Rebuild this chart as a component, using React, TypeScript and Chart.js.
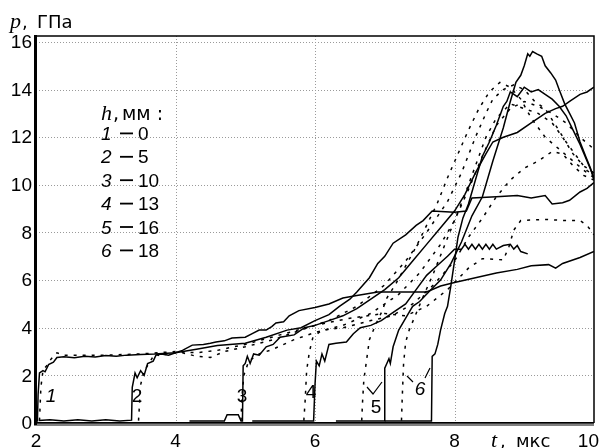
import React, { useEffect, useRef } from "react";
import { Chart, registerables } from "chart.js";

Chart.register(...registerables);

// ---- axis ticks ----
const xTicks = [2, 4, 6, 8, 10];
const yTicks = [0, 2, 4, 6, 8, 10, 12, 14, 16];
const xGrid = [4, 6, 8];
const yGrid = [2, 4, 6, 8, 10, 12, 14, 16];

// ---- legend ----
const legendNums = ["1", "2", "3", "4", "5", "6"];
const legendDepths = ["0", "5", "10", "13", "16", "18"];

// ---- curves: [t (мкс), p (ГПа)] ----
const solid1: number[][] = [
  [2.0, 0.08], [2.02, 0.08], [2.03, 1.2], [2.05, 2.1], [2.1, 2.2], [2.13, 2.15], [2.18, 2.45], [2.25, 2.55],
  [2.3, 2.75], [2.4, 2.78], [2.55, 2.74], [2.7, 2.8], [2.85, 2.77], [3.0, 2.83], [3.15, 2.8], [3.3, 2.85],
  [3.5, 2.88], [3.7, 2.9], [4.0, 2.95], [4.1, 3.05], [4.24, 3.27], [4.4, 3.3], [4.5, 3.35], [4.58, 3.4],
  [4.7, 3.45], [4.81, 3.57], [5.0, 3.6], [5.1, 3.75], [5.2, 3.9], [5.3, 3.9], [5.38, 4.05], [5.44, 4.2],
  [5.55, 4.25], [5.63, 4.5], [5.77, 4.72], [6.0, 4.85], [6.2, 5.0], [6.4, 5.25], [6.6, 5.35], [6.9, 5.5],
  [7.3, 5.5], [7.6, 5.5], [7.8, 5.75], [8.0, 5.9], [8.3, 6.1], [8.6, 6.3], [8.9, 6.45], [9.1, 6.6],
  [9.35, 6.65], [9.45, 6.5], [9.55, 6.7], [9.8, 6.95], [10.0, 7.2],
];
const solid2: number[][] = [
  [2.04, 0.1], [2.2, 0.14], [2.4, 0.08], [2.6, 0.14], [2.8, 0.08], [3.0, 0.14], [3.2, 0.08], [3.37, 0.12],
  [3.38, 1.5], [3.42, 2.1], [3.45, 1.9], [3.5, 2.2], [3.55, 2.0], [3.6, 2.5], [3.68, 2.6], [3.72, 2.85],
  [3.8, 2.9], [3.9, 2.85], [4.0, 2.95], [4.3, 3.1], [4.6, 3.25], [5.0, 3.35], [5.3, 3.6], [5.6, 3.9],
  [5.8, 4.0], [6.0, 4.3], [6.2, 4.55], [6.35, 4.9], [6.5, 5.2], [6.6, 5.5], [6.78, 6.1], [6.9, 6.7],
  [7.0, 7.0], [7.12, 7.55], [7.3, 7.9], [7.45, 8.3], [7.55, 8.5], [7.68, 8.9], [8.0, 8.85], [8.17, 8.9],
  [8.25, 9.45], [8.6, 9.5], [8.9, 9.55], [9.1, 9.45], [9.3, 9.55], [9.4, 9.2], [9.55, 9.25], [9.65, 9.35],
  [9.8, 9.7], [9.9, 9.85], [10.0, 10.1],
];
const solid3: number[][] = [
  [4.2, 0.08], [4.7, 0.08], [4.74, 0.35], [4.9, 0.35], [4.94, 0.08], [4.96, 0.08], [4.97, 2.4], [5.0, 2.5],
  [5.03, 2.8], [5.07, 2.5], [5.12, 2.9], [5.2, 2.85], [5.3, 3.2], [5.4, 3.3], [5.5, 3.6], [5.7, 3.7],
  [5.85, 4.0], [6.0, 4.1], [6.2, 4.3], [6.4, 4.5], [6.6, 4.8], [6.8, 5.2], [7.0, 5.6], [7.2, 6.1],
  [7.4, 6.8], [7.6, 7.5], [7.8, 8.2], [8.0, 8.9], [8.15, 9.6], [8.3, 10.5], [8.45, 11.3], [8.55, 11.8],
  [8.7, 12.0], [8.9, 12.2], [9.1, 12.6], [9.3, 13.0], [9.45, 13.2], [9.55, 13.3], [9.65, 13.5], [9.8, 13.8],
  [9.9, 13.9], [10.0, 14.1],
];
const solid4: number[][] = [
  [5.1, 0.08], [5.98, 0.08], [6.0, 1.6], [6.02, 2.6], [6.06, 2.4], [6.1, 2.9], [6.14, 2.6], [6.2, 3.3],
  [6.3, 3.35], [6.45, 3.4], [6.55, 3.75], [6.65, 4.0], [6.8, 4.1], [6.95, 4.3], [7.1, 4.6], [7.3, 5.0],
  [7.45, 5.6], [7.6, 6.2], [7.75, 6.6], [7.9, 7.0], [8.0, 7.3], [8.1, 7.3], [8.15, 7.5], [8.2, 7.3],
  [8.25, 7.5], [8.3, 7.3], [8.35, 7.5], [8.4, 7.3], [8.45, 7.5], [8.5, 7.3], [8.55, 7.5], [8.6, 7.3],
  [8.7, 7.45], [8.8, 7.5], [8.85, 7.3], [8.9, 7.45], [8.95, 7.2], [9.05, 7.1],
];
const solid5: number[][] = [
  [6.3, 0.08], [6.99, 0.08], [7.0, 2.3], [7.03, 2.5], [7.06, 2.7], [7.08, 2.5], [7.12, 3.2], [7.2, 3.9],
  [7.3, 4.4], [7.4, 4.9], [7.5, 5.1], [7.63, 5.5], [7.8, 6.0], [7.95, 6.7], [8.1, 7.6], [8.25, 8.7],
  [8.4, 9.5], [8.55, 11.0], [8.7, 12.4], [8.8, 13.5], [8.88, 14.3], [8.95, 14.6], [9.0, 15.0], [9.05, 15.5],
  [9.08, 15.4], [9.12, 15.6], [9.18, 15.5], [9.25, 15.4], [9.3, 15.0], [9.38, 14.7], [9.45, 14.4], [9.5, 14.0],
  [9.58, 13.4], [9.65, 13.0], [9.72, 12.6], [9.8, 11.8], [9.88, 11.2], [9.95, 10.7], [10.0, 10.2],
];
const solid6: number[][] = [
  [7.0, 0.08], [7.67, 0.08], [7.68, 2.8], [7.72, 2.9], [7.76, 3.3], [7.8, 3.9], [7.86, 4.6], [7.9, 4.9],
  [7.95, 5.8], [8.0, 6.8], [8.05, 7.8], [8.12, 8.6], [8.2, 9.2], [8.3, 10.2], [8.4, 11.2], [8.5, 11.8],
  [8.6, 12.5], [8.7, 13.3], [8.75, 13.5], [8.8, 13.9], [8.9, 13.7], [9.0, 14.1], [9.1, 13.9], [9.2, 14.0],
  [9.3, 13.8], [9.4, 13.6], [9.5, 13.3], [9.6, 12.9], [9.7, 12.3], [9.8, 11.7], [9.9, 11.0], [10.0, 10.3],
];

const dash1: number[][] = [
  [2.05, 0.1], [2.07, 1.5], [2.1, 2.2], [2.15, 2.4], [2.22, 2.7], [2.3, 2.95], [2.4, 2.85], [3.0, 2.85],
  [3.5, 2.9], [4.0, 3.0], [4.3, 2.95], [4.6, 3.05], [5.0, 3.3], [5.5, 3.7], [6.0, 4.1], [6.5, 4.4],
  [7.0, 4.6], [7.3, 4.5], [7.6, 4.9], [7.9, 5.6], [8.2, 6.5], [8.4, 6.9], [8.7, 6.85], [8.78, 7.4],
  [8.85, 8.1], [8.95, 8.5], [9.3, 8.55], [9.6, 8.5], [9.8, 8.5], [9.9, 8.3], [10.0, 7.9],
];
const dash2: number[][] = [
  [3.47, 0.1], [3.48, 0.6], [3.5, 1.6], [3.55, 2.2], [3.62, 2.5], [3.7, 2.9], [3.8, 2.8], [3.9, 2.95],
  [4.1, 2.95], [4.3, 2.8], [4.5, 2.75], [4.7, 3.0], [5.0, 3.2], [5.4, 3.5], [5.8, 3.9], [6.2, 4.3],
  [6.6, 4.9], [7.0, 5.8], [7.3, 6.8], [7.6, 8.0], [7.9, 9.3], [8.1, 10.5], [8.3, 12.0], [8.45, 13.0],
  [8.55, 13.6], [8.7, 14.0], [8.85, 14.2], [9.0, 14.0], [9.15, 13.5], [9.3, 13.2], [9.45, 12.5], [9.6, 11.8],
  [9.75, 11.2], [9.9, 10.6], [10.0, 10.4],
];
const dash3: number[][] = [
  [4.94, 0.1], [4.95, 1.0], [4.98, 2.0], [5.05, 2.6], [5.2, 2.9], [5.4, 3.1], [5.7, 3.5], [6.0, 3.8],
  [6.4, 4.1], [6.8, 4.6], [7.2, 5.4], [7.5, 6.3], [7.8, 7.5], [8.0, 8.5], [8.2, 9.8], [8.4, 11.2],
  [8.6, 12.5], [8.8, 13.2], [9.0, 13.5], [9.2, 13.3], [9.4, 13.0], [9.6, 12.6], [9.8, 12.0], [10.0, 11.5],
];
const dash4: number[][] = [
  [5.84, 0.1], [5.86, 1.0], [5.88, 2.2], [5.92, 3.0], [5.97, 3.6], [6.1, 3.9], [6.4, 4.0], [6.8, 4.3],
  [7.1, 4.5], [7.4, 5.0], [7.7, 5.8], [8.0, 6.8], [8.2, 7.8], [8.4, 8.6], [8.6, 9.5], [8.8, 10.2],
  [9.0, 10.7], [9.2, 11.0], [9.4, 11.4], [9.55, 11.3], [9.7, 10.8], [9.85, 10.4], [10.0, 10.2],
];
const dash5: number[][] = [
  [6.67, 0.1], [6.68, 0.8], [6.7, 1.8], [6.78, 3.5], [6.88, 4.2], [6.97, 4.75], [7.02, 5.2], [7.15, 5.8],
  [7.3, 6.6], [7.45, 7.4], [7.6, 8.3], [7.75, 9.2], [7.9, 10.3], [8.05, 11.3], [8.2, 12.3], [8.35, 13.2],
  [8.5, 13.9], [8.65, 14.3], [8.8, 14.1], [8.95, 13.6], [9.1, 12.8], [9.3, 12.0], [9.5, 11.5], [9.7, 11.0],
  [9.9, 10.5], [10.0, 10.3],
];
const dash6: number[][] = [
  [7.24, 0.1], [7.25, 1.0], [7.27, 2.5], [7.3, 3.4], [7.35, 3.9], [7.45, 4.6], [7.55, 5.3], [7.7, 6.3],
  [7.85, 7.4], [8.0, 8.5], [8.15, 9.6], [8.3, 10.8], [8.45, 12.0], [8.6, 12.8], [8.8, 13.4], [9.0, 13.2],
  [9.2, 13.0], [9.4, 12.6], [9.55, 12.0], [9.7, 11.3], [9.85, 10.8], [10.0, 10.5],
];

const solidCurves = [solid1, solid2, solid3, solid4, solid5, solid6];
const dashCurves = [dash1, dash2, dash3, dash4, dash5, dash6];

const SANS = '"Liberation Sans", Arial, sans-serif';
const WIDE = '"DejaVu Sans", "Liberation Sans", sans-serif';
const SERIF = '"Liberation Serif", "DejaVu Serif", serif';

const decorPlugin = {
  id: "decor",
  beforeDatasetsDraw(chart: any) {
    const { ctx, chartArea: a, scales } = chart;
    const xs = scales.x, ys = scales.y;
    ctx.save();
    ctx.strokeStyle = "#9a9a9a";
    ctx.lineWidth = 1;
    ctx.setLineDash([1, 2]);
    for (const v of xGrid) {
      const x = Math.round(xs.getPixelForValue(v)) + 0.5;
      ctx.beginPath(); ctx.moveTo(x, a.top); ctx.lineTo(x, a.bottom); ctx.stroke();
    }
    for (const v of yGrid) {
      const y = Math.round(ys.getPixelForValue(v)) + 0.5;
      ctx.beginPath(); ctx.moveTo(a.left, y); ctx.lineTo(a.right, y); ctx.stroke();
    }
    ctx.restore();
  },
  afterDatasetsDraw(chart: any) {
    const { ctx, chartArea: a, scales } = chart;
    const xs = scales.x, ys = scales.y;
    ctx.save();
    ctx.setLineDash([]);
    // frame
    ctx.strokeStyle = "#000";
    ctx.lineWidth = 1.5;
    ctx.beginPath(); ctx.moveTo(a.left, a.top); ctx.lineTo(a.right, a.top); ctx.lineTo(a.right, a.bottom); ctx.stroke();
    // thick left and bottom axes
    ctx.fillStyle = "#808080";
    ctx.fillRect(a.left - 2, a.bottom - 1, a.right - a.left + 2, 4);
    ctx.fillStyle = "#000";
    ctx.fillRect(a.left - 2, a.top - 1, 3, a.bottom - a.top + 3);
    ctx.fillRect(a.left - 2, a.bottom - 1, a.right - a.left + 2, 1.5);

    // tick labels
    ctx.fillStyle = "#000";
    ctx.font = `19px ${SANS}`;
    ctx.textAlign = "right";
    ctx.textBaseline = "middle";
    for (const v of yTicks) {
      ctx.fillText(String(v), 32, ys.getPixelForValue(v) + 1);
    }
    ctx.textBaseline = "alphabetic";
    for (const v of xTicks) {
      const x = xs.getPixelForValue(v);
      if (v === xTicks[xTicks.length - 1]) { ctx.textAlign = "right"; ctx.fillText(String(v), 599, 447); }
      else { ctx.textAlign = "center"; ctx.fillText(String(v), x, 447); }
    }

    // axis titles
    ctx.textAlign = "left";
    ctx.font = `italic 22px ${SERIF}`;
    ctx.fillText("p", 10, 28);
    ctx.font = `18px ${WIDE}`;
    ctx.fillText(",", 22, 28);
    ctx.fillText("ГПа", 37, 28);
    ctx.font = `italic 22px ${SERIF}`;
    ctx.fillText("t", 491, 447);
    ctx.font = `18px ${WIDE}`;
    ctx.fillText(",", 500, 447);
    ctx.fillText("мкс", 516, 447);

    // legend block
    ctx.font = `italic 22px ${SERIF}`;
    ctx.fillText("h", 101, 120);
    ctx.font = `19px ${WIDE}`;
    ctx.fillText(",", 113, 120);
    ctx.fillText("мм :", 122, 120);
    const base0 = 140;
    const step = 23.4;
    legendNums.forEach((n, i) => {
      const yb = base0 + i * step;
      ctx.font = `italic 19px ${SANS}`;
      ctx.fillText(n, 101, yb);
      ctx.fillRect(120, yb - 7.5, 13, 1.8);
      ctx.font = `19px ${SANS}`;
      ctx.fillText(legendDepths[i], 138, yb);
    });

    // curve labels
    ctx.textAlign = "center";
    ctx.font = `italic 19px ${SANS}`;
    ctx.fillText("1", 51, 402);
    ctx.font = `19px ${SANS}`;
    ctx.fillText("2", 137, 402);
    ctx.fillText("3", 242, 402);
    ctx.fillText("4", 311, 398);
    ctx.fillText("5", 376, 413);
    ctx.font = `italic 19px ${SANS}`;
    ctx.fillText("6", 420, 395);
    ctx.lineWidth = 1.2;
    ctx.strokeStyle = "#000";
    ctx.beginPath();
    ctx.moveTo(367, 387); ctx.lineTo(373, 394); ctx.lineTo(382, 382);
    ctx.moveTo(407, 376); ctx.lineTo(413, 382);
    ctx.moveTo(425, 378); ctx.lineTo(430, 368);
    ctx.stroke();
    ctx.restore();
  },
};

export default function App() {
  const ref = useRef<HTMLCanvasElement | null>(null);
  useEffect(() => {
    if (!ref.current) return;
    const datasets: any[] = [];
    solidCurves.forEach((c, i) => {
      datasets.push({
        label: `s${i + 1}`,
        data: c.map(([x, y]) => ({ x, y })),
        borderColor: "#000",
        borderWidth: 1.5,
        pointRadius: 0,
        tension: 0,
        fill: false,
      });
    });
    dashCurves.forEach((c, i) => {
      datasets.push({
        label: `d${i + 1}`,
        data: c.map(([x, y]) => ({ x, y })),
        borderColor: "#000",
        borderWidth: 1.5,
        borderDash: [3, 6],
        pointRadius: 0,
        tension: 0,
        fill: false,
      });
    });
    const chart = new Chart(ref.current, {
      type: "line",
      data: { datasets },
      options: {
        responsive: false,
        animation: false,
        parsing: false as any,
        layout: { padding: { left: 36, top: 36, right: 6, bottom: 25 } },
        plugins: { legend: { display: false }, tooltip: { enabled: false } },
        scales: {
          x: { type: "linear", min: 2, max: 10, display: false },
          y: { type: "linear", min: 0, max: 16.25, display: false },
        },
      },
      plugins: [decorPlugin],
    });
    return () => chart.destroy();
  }, []);
  return (
    <div style={{ position: "absolute", left: 0, top: 0, width: 600, height: 448, background: "#fff" }}>
      <canvas ref={ref} width={600} height={448} style={{ display: "block" }} />
    </div>
  );
}
